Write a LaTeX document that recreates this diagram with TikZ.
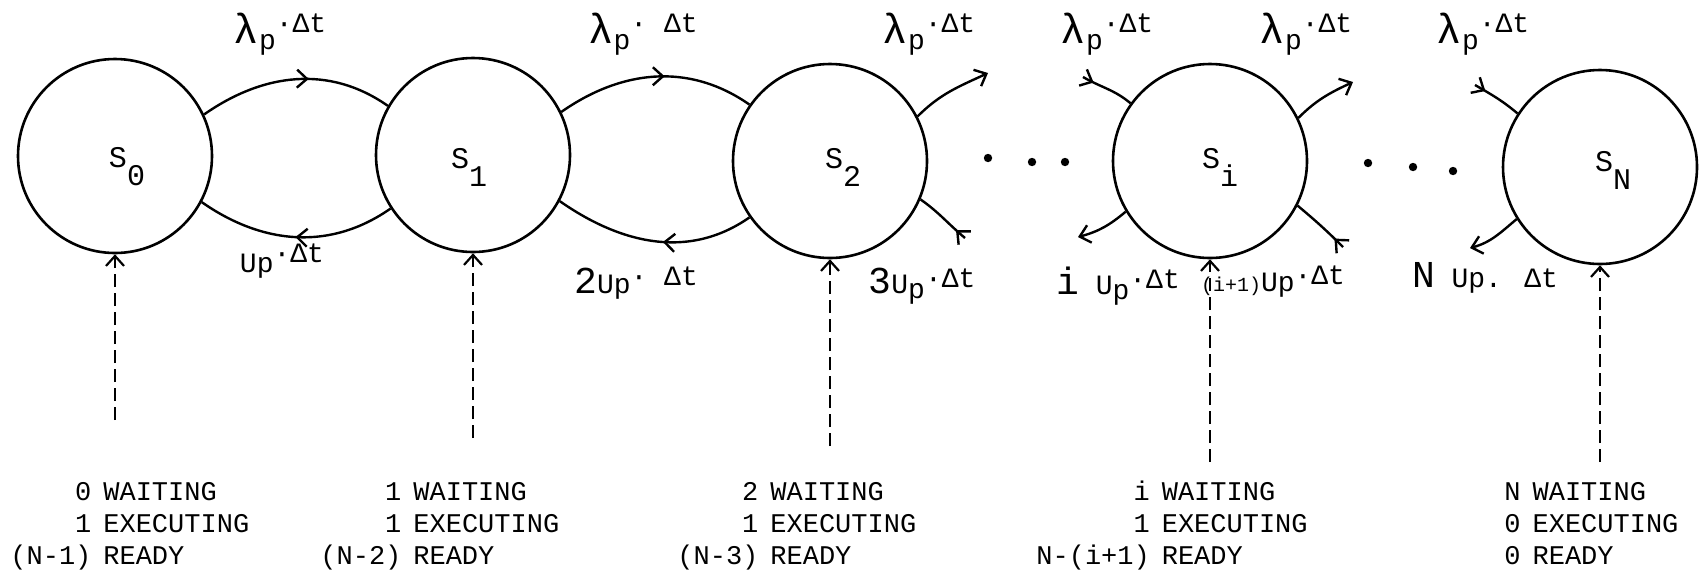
\documentclass[tikz,border=0pt]{standalone}
\usepackage{fontspec}
\setmainfont{Liberation Mono}
\usetikzlibrary{arrows.meta,decorations.markings}
\newcommand\lamp{{\fontsize{21}{21}\selectfont λ}\raisebox{-0.2em}{p}}
\newcommand\bigc[1]{{\fontsize{19}{19}\selectfont #1}}
\begin{document}
\begin{tikzpicture}[x=0.5pt,y=0.5pt,
  every node/.style={font=\fontsize{13.5}{16}\selectfont,inner sep=0pt},
  stnode/.style={draw,circle,line width=1.3pt,minimum size=97pt,inner sep=0pt},
  slbl/.style={font=\fontsize{15}{16}\selectfont},
  rate/.style={font=\fontsize{14}{16}\selectfont},
  arcline/.style={line width=1.2pt},
  tipend/.style={-{Straight Barb[length=5pt,width=9pt,line width=1.2pt]}},
  midarrow/.style={postaction={decorate},decoration={markings,
     mark=at position #1 with {\arrow{Straight Barb[length=5pt,width=9pt,line width=1.2pt]}}}},
  feed/.style={line width=1.1pt,dash pattern=on 6.5pt off 3pt,
     -{Straight Barb[length=5pt,width=9pt,line width=1.1pt]}},
  blob/.style={circle,fill,inner sep=0pt,minimum size=4.2pt},
  block/.style={anchor=base west,align=left},
]
\useasboundingbox (0,0) rectangle (1706,-580);

% states
\node[stnode] (s0) at (115,-156) {};
\node[stnode] (s1) at (473,-155) {};
\node[stnode] (s2) at (830,-161) {};
\node[stnode] (si) at (1210,-161) {};
\node[stnode] (sN) at (1600,-167) {};

\node[slbl] (t0) at (127,-167) {S\raisebox{-0.6em}{0}};
\node[slbl] (t1) at (469,-167) {S\raisebox{-0.6em}{1}};
\node[slbl] (t2) at (843,-167) {S\raisebox{-0.6em}{2}};
\node[slbl] (ti) at (1220,-167) {S\raisebox{-0.6em}{i}};
\node[slbl] (tN) at (1613,-170) {S\raisebox{-0.6em}{N}};

% transitions between s0 and s1, s1 and s2
\draw[arcline,midarrow=0.57] (s0.25) to[out=35,in=145] (s1.150);
\draw[arcline,midarrow=0.5] (s1.213) to[out=-145,in=-35] (s0.-28);
\draw[arcline,midarrow=0.55] (s1.26) to[out=35,in=145] (s2.145);
\draw[arcline,midarrow=0.45] (s2.215) to[out=-145,in=-35] (s1.-28);

% free ends
\coordinate (e2a) at (988,-73);
\coordinate (e2b) at (965,-238);
\coordinate (eia) at (1083,-77);
\coordinate (eib) at (1078,-237);
\coordinate (eic) at (1353,-82);
\coordinate (eid) at (1343,-247);
\coordinate (eNa) at (1475,-85);
\coordinate (eNb) at (1470,-248);

\draw[arcline,tipend] (s2.27) to[out=45,in=205] (e2a);
\draw[arcline,midarrow=6pt] (e2b) to[out=140,in=-35] (s2.-23);
\draw[arcline,midarrow=6pt] (eia) to[out=-30,in=140] (si.144);
\draw[arcline,tipend] (si.211) to[out=220,in=15] (eib);
\draw[arcline,tipend] (si.26) to[out=45,in=205] (eic);
\draw[arcline,midarrow=6pt] (eid) to[out=135,in=-40] (si.-27);
\draw[arcline,midarrow=6pt] (eNa) to[out=-30,in=140] (sN.147);
\draw[arcline,tipend] (sN.212) to[out=220,in=15] (eNb);

% dots
\node[blob] (p1) at (988,-158) {};
\node[blob] (p2) at (1032,-162) {};
\node[blob] (p3) at (1065,-162) {};
\node[blob] (p4) at (1368,-163) {};
\node[blob] (p5) at (1413,-167) {};
\node[blob] (p6) at (1453,-171) {};

% rate labels
\node[rate] (l1) at (280,-34) {\lamp\raisebox{0.38em}{·Δt}};
\node[rate] (l2) at (282,-261) {Up\raisebox{0.35em}{·Δt}};
\node[rate] (l3) at (643,-34) {\lamp\raisebox{0.38em}{· Δt}};
\node[rate] (l4) at (636,-283) {\bigc{2}Up\raisebox{0.3em}{· Δt}};
\node[rate] (l5) at (929,-34) {\lamp\raisebox{0.38em}{·Δt}};
\node[rate] (l6) at (922,-286) {\bigc{3}U\raisebox{-0.2em}{p}\raisebox{0.2em}{·Δt}};
\node[rate] (l7) at (1107,-34) {\lamp\raisebox{0.38em}{·Δt}};
\node[rate] (l8) at (1118,-286) {\bigc{i} U\raisebox{-0.2em}{p}\raisebox{0.2em}{·Δt}};
\node[rate] (l9) at (1306,-34) {\lamp\raisebox{0.38em}{·Δt}};
\node[rate] (l10) at (1273,-282) {{\fontsize{10}{10}\selectfont(i+1)}Up\raisebox{0.25em}{·Δt}};
\node[rate] (l11) at (1483,-34) {\lamp\raisebox{0.38em}{·Δt}};
\node[rate] (l12) at (1485,-278) {\bigc{N} Up. Δt};

% dashed arrivals
\coordinate (d0) at (115,-420);
\coordinate (d1) at (473,-438);
\coordinate (d2) at (830,-446);
\coordinate (di) at (1210,-462);
\coordinate (dN) at (1600,-462);
\draw[feed] (d0) -- (s0.south);
\draw[feed] (d1) -- (s1.south);
\draw[feed] (d2) -- (s2.south);
\draw[feed] (di) -- (si.south);
\draw[feed] (dN) -- (sN.south);

% state descriptions
\node[block] (b0) at (10,-500) {\begin{tabular}[t]{@{}r@{\hspace{6pt}}l@{}}0 & WAITING\\ 1 & EXECUTING\\ (N-1) & READY\end{tabular}};
\node[block] (b1) at (320,-500) {\begin{tabular}[t]{@{}r@{\hspace{6pt}}l@{}}1 & WAITING\\ 1 & EXECUTING\\ (N-2) & READY\end{tabular}};
\node[block] (b2) at (677,-500) {\begin{tabular}[t]{@{}r@{\hspace{6pt}}l@{}}2 & WAITING\\ 1 & EXECUTING\\ (N-3) & READY\end{tabular}};
\node[block] (bi) at (1036,-500) {\begin{tabular}[t]{@{}r@{\hspace{6pt}}l@{}}i & WAITING\\ 1 & EXECUTING\\ N-(i+1) & READY\end{tabular}};
\node[block] (bN) at (1504,-500) {\begin{tabular}[t]{@{}r@{\hspace{6pt}}l@{}}N & WAITING\\ 0 & EXECUTING\\ 0 & READY\end{tabular}};
\end{tikzpicture}
\end{document}
